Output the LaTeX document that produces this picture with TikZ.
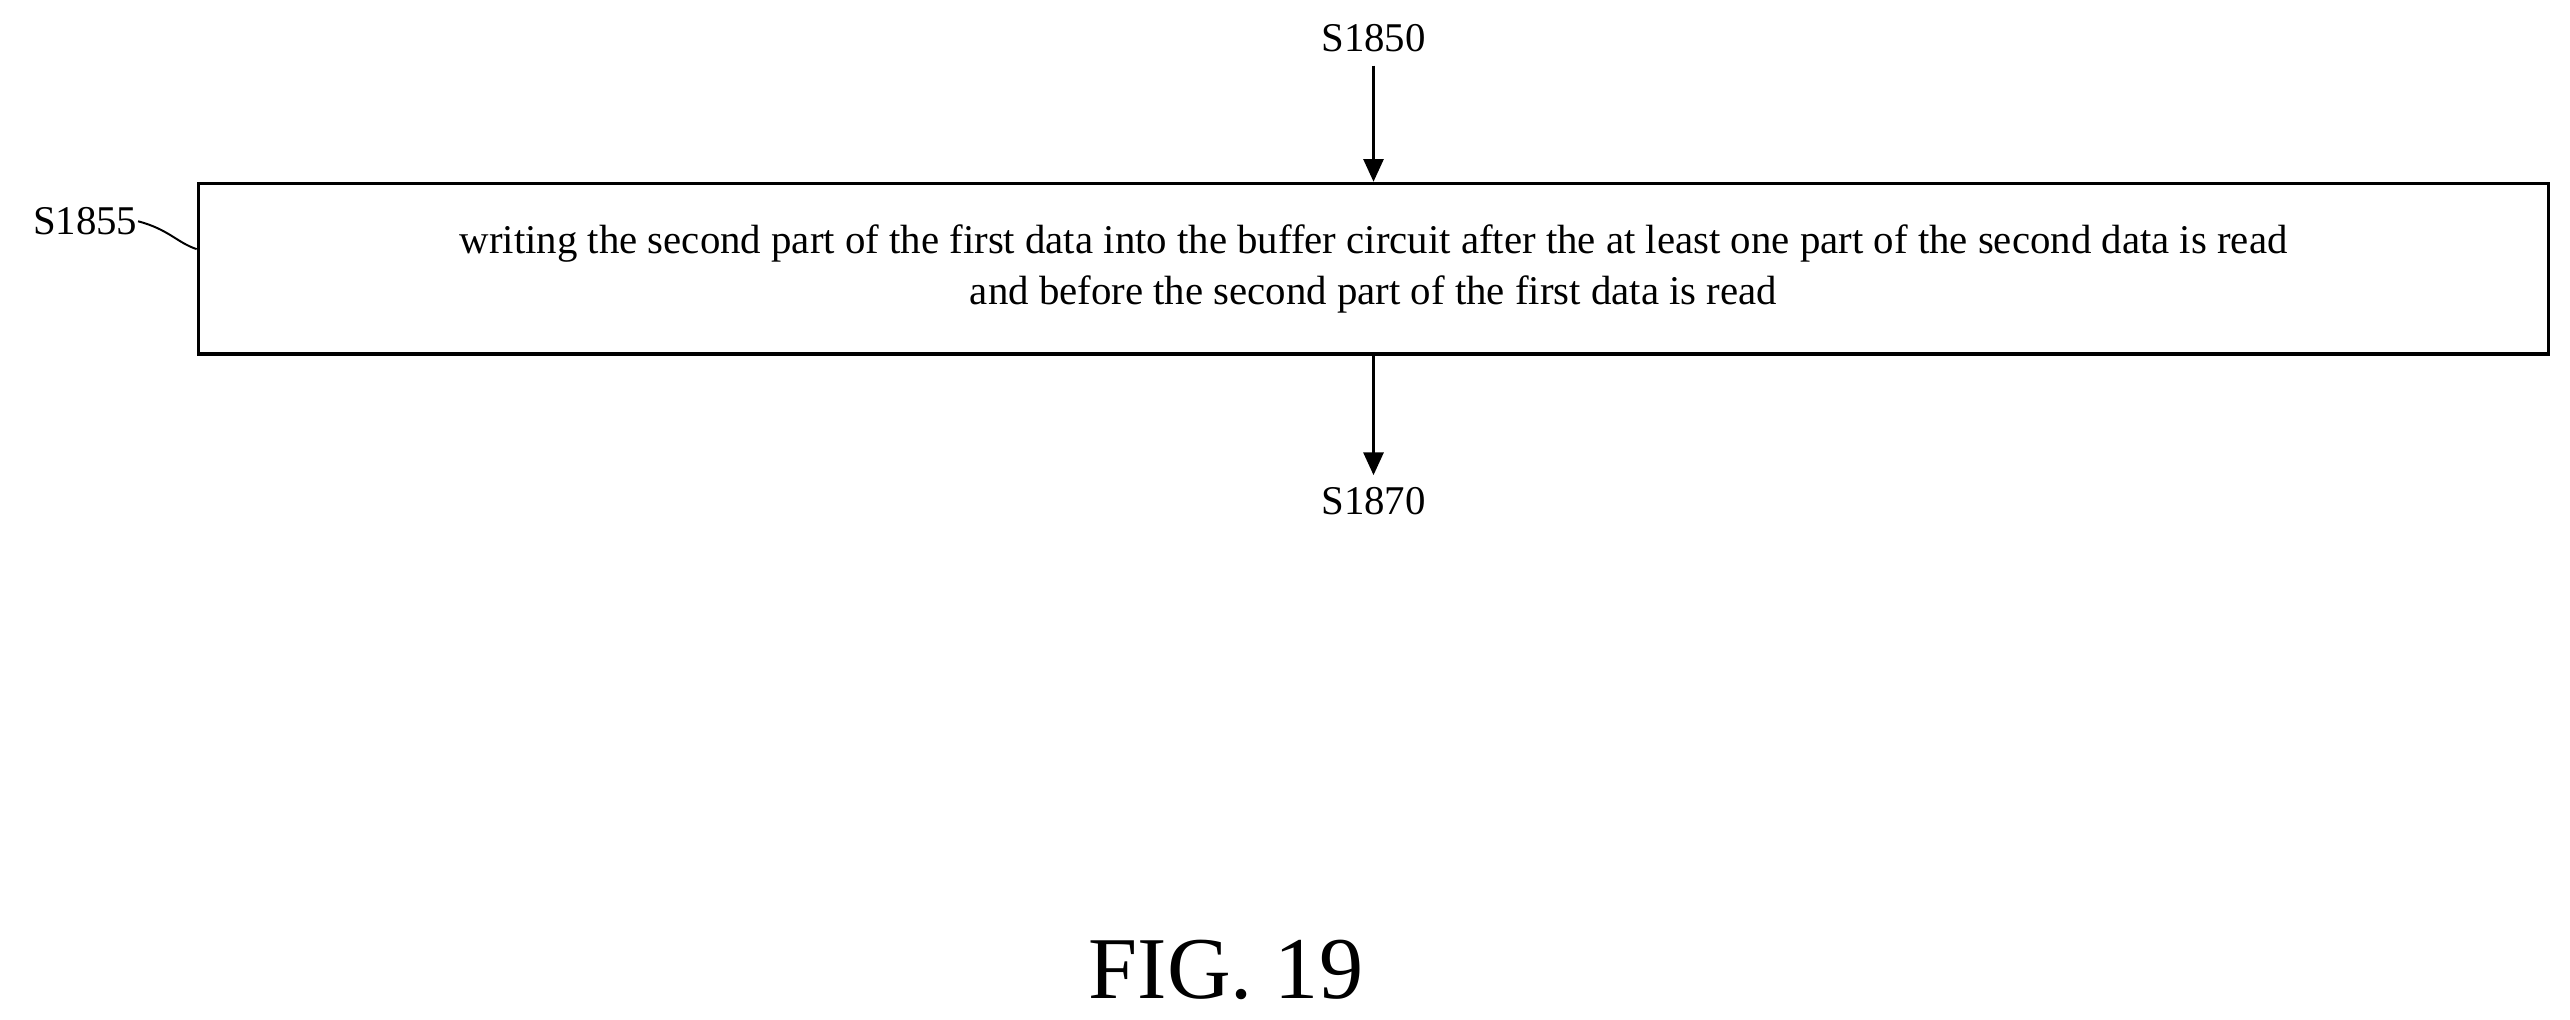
\documentclass[tikz,border=0pt]{standalone}
\usepackage{fontspec}
\setmainfont{Liberation Serif}
\usetikzlibrary{arrows.meta}
\begin{document}
\begin{tikzpicture}[x=0.5bp,y=-0.5bp,
  lbl/.style={font=\fontsize{12.5}{14}\selectfont, inner sep=0pt},
  conn/.style={line width=1.2pt,-{Triangle[length=7pt,width=6pt]}}]
\useasboundingbox (0,0) rectangle (1568,622);
\node[draw, line width=1pt, minimum width=1434bp*0.5, minimum height=104bp*0.5, align=center,
  font=\fontsize{12.5}{15.5}\selectfont, inner sep=0pt] (box) at (838,164)
  {writing the second part of the first data into the buffer circuit after the at least one part of the second data is read\\
   and before the second part of the first data is read};
\node[lbl] (s1850) at (838,23) {S1850};
\node[lbl] (s1870) at (838,306) {S1870};
\node[lbl] (s1855) at (52,135) {S1855};
\draw[conn] (s1850.south) ++(0,0) coordinate (a1) (838,40) -- (box.north);
\draw[conn] (box.south) -- (838,290) coordinate (a2);
\draw[line width=0.6pt] (s1855.east) .. controls (103,140) and (108,148) .. (box.west |- 0,152);
\node[font=\fontsize{27}{30}\selectfont, inner sep=0pt] (fig) at (748,592) {FIG. 19};
\end{tikzpicture}
\end{document}
